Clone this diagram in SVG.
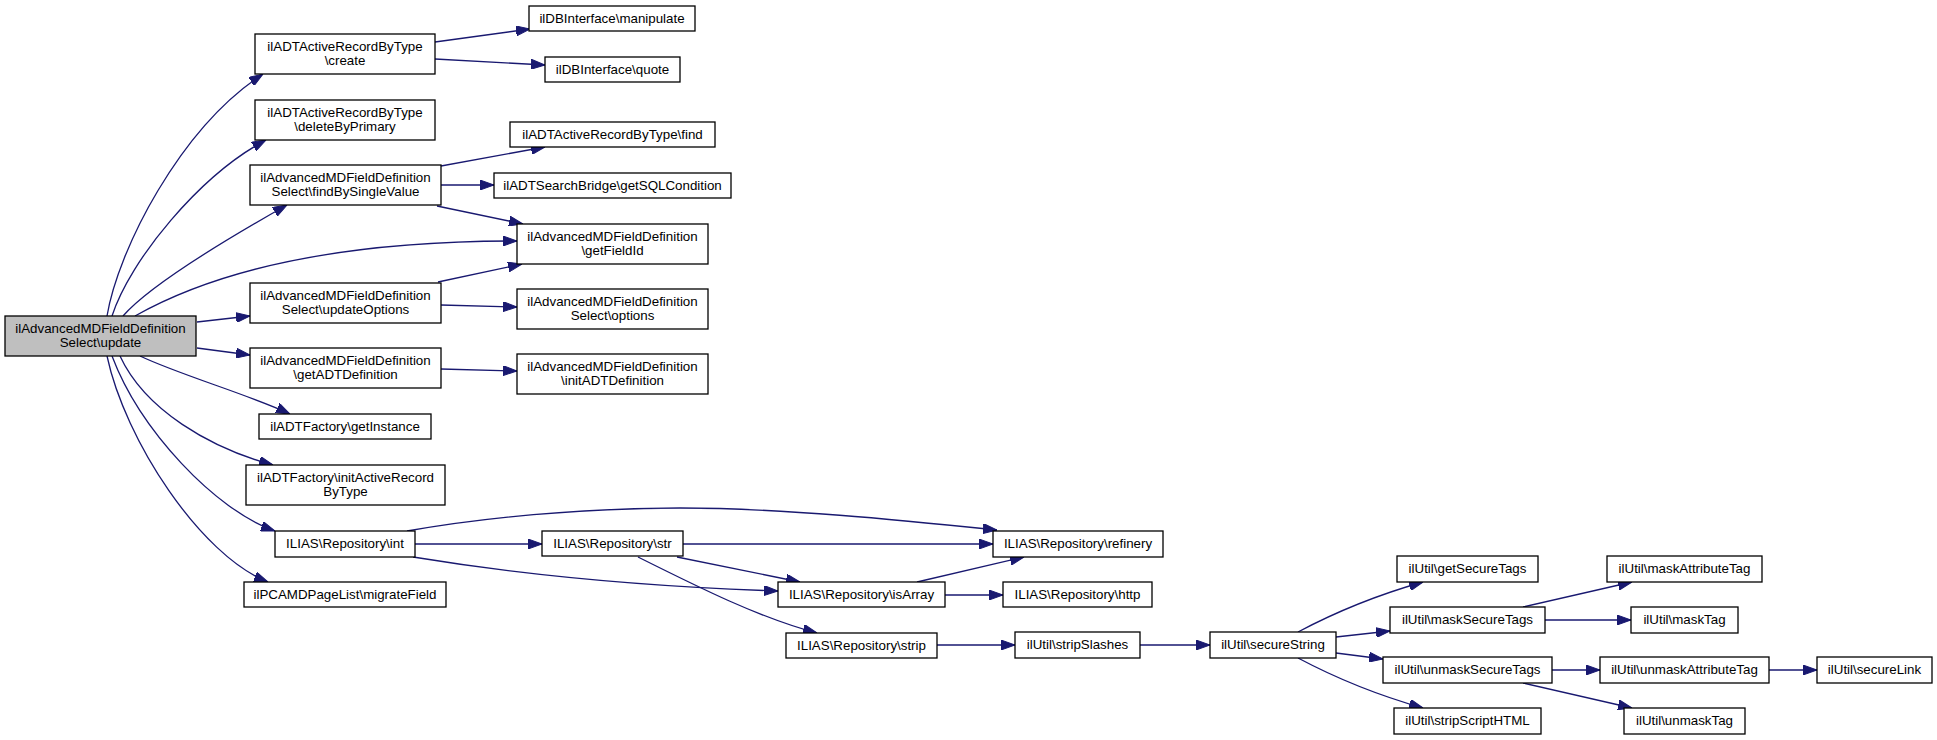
<svg xmlns="http://www.w3.org/2000/svg" width="1937" height="740" viewBox="0 0 1937 740">
<style>
.n rect{fill:#fff;stroke:#000;stroke-width:1.3}
.n.root rect{fill:#bfbfbf}
.n text{font-family:"Liberation Sans",Arial,sans-serif;font-size:13.33px;fill:#000;text-anchor:middle}
#edges path{fill:none;stroke:#191970;stroke-width:1.3;marker-end:url(#ah)}
</style>
<defs>
<marker id="ah" markerUnits="userSpaceOnUse" markerWidth="14" markerHeight="10" refX="14" refY="5" orient="auto" viewBox="0 0 14 10">
<path d="M0,0 L14,5 L0,10 Z" fill="#191970" stroke="#191970" stroke-width="1"/>
</marker>
</defs>
<rect width="1937" height="740" fill="#fff"/>
<g id="edges">
<path d="M107,316 C118,250 180,128 263,74"/>
<path d="M112,316 C130,260 200,175 266,140"/>
<path d="M123,316 C150,285 225,240 287,205"/>
<path d="M135,316 C190,285 300,241 517,241"/>
<path d="M197,322 L250,316"/>
<path d="M197,348 L250,355"/>
<path d="M140,356 C180,375 250,395 290,414"/>
<path d="M120,356 C145,410 210,448 273,465"/>
<path d="M112,356 C140,430 215,510 275,531"/>
<path d="M107,356 C125,440 200,555 268,582"/>
<path d="M435,42 L530,29"/>
<path d="M435,59 L545,65"/>
<path d="M441,166 L545,147"/>
<path d="M441,185 L494,185"/>
<path d="M437,206 L523,224"/>
<path d="M438,282 L522,264"/>
<path d="M441,305 L517,307"/>
<path d="M441,369 L517,371"/>
<path d="M407,531 C480,518 580,508 680,508 C780,508 900,520 997,530"/>
<path d="M415,544 L542,544"/>
<path d="M413,557 C480,568 600,585 778,591"/>
<path d="M683,544 L993,544"/>
<path d="M677,557 L800,582"/>
<path d="M638,557 C700,588 760,618 817,633"/>
<path d="M917,582 L1024,557"/>
<path d="M945,595 L1003,595"/>
<path d="M937,645 L1015,645"/>
<path d="M1140,645 L1210,645"/>
<path d="M1298,632 C1330,615 1370,597 1423,582"/>
<path d="M1336,637 L1390,631"/>
<path d="M1336,653 L1383,659"/>
<path d="M1298,658 C1330,675 1370,693 1423,708"/>
<path d="M1523,607 L1632,582"/>
<path d="M1545,620 L1631,620"/>
<path d="M1552,670 L1600,670"/>
<path d="M1523,683 L1632,708"/>
<path d="M1769,670 L1817,670"/>
</g>
<g id="root" class="n root"><rect x="5" y="316" width="191" height="40"/><text x="100.5" y="332.5">ilAdvancedMDFieldDefinition</text><text x="100.5" y="347">Select\update</text></g>
<g id="create" class="n"><rect x="255" y="34" width="180" height="40"/><text x="345" y="50.5">ilADTActiveRecordByType</text><text x="345" y="65">\create</text></g>
<g id="deleteByPrimary" class="n"><rect x="255" y="100" width="180" height="40"/><text x="345" y="116.5">ilADTActiveRecordByType</text><text x="345" y="131">\deleteByPrimary</text></g>
<g id="findBySingleValue" class="n"><rect x="250" y="165" width="191" height="40"/><text x="345.5" y="181.5">ilAdvancedMDFieldDefinition</text><text x="345.5" y="196">Select\findBySingleValue</text></g>
<g id="updateOptions" class="n"><rect x="250" y="283" width="191" height="40"/><text x="345.5" y="299.5">ilAdvancedMDFieldDefinition</text><text x="345.5" y="314">Select\updateOptions</text></g>
<g id="getADTDefinition" class="n"><rect x="250" y="348" width="191" height="40"/><text x="345.5" y="364.5">ilAdvancedMDFieldDefinition</text><text x="345.5" y="379">\getADTDefinition</text></g>
<g id="getInstance" class="n"><rect x="259" y="414" width="172" height="25"/><text x="345" y="430.5">ilADTFactory\getInstance</text></g>
<g id="initActiveRecordByType" class="n"><rect x="246" y="465" width="199" height="40"/><text x="345.5" y="481.5">ilADTFactory\initActiveRecord</text><text x="345.5" y="496">ByType</text></g>
<g id="int" class="n"><rect x="275" y="531" width="140" height="26"/><text x="345" y="547.5">ILIAS\Repository\int</text></g>
<g id="migrateField" class="n"><rect x="244" y="582" width="202" height="25"/><text x="345" y="598.5">ilPCAMDPageList\migrateField</text></g>
<g id="manipulate" class="n"><rect x="529" y="6" width="166" height="25"/><text x="612" y="22.5">ilDBInterface\manipulate</text></g>
<g id="quote" class="n"><rect x="545" y="57" width="135" height="25"/><text x="612.5" y="73.5">ilDBInterface\quote</text></g>
<g id="find" class="n"><rect x="510" y="122" width="205" height="25"/><text x="612.5" y="138.5">ilADTActiveRecordByType\find</text></g>
<g id="getSQLCondition" class="n"><rect x="494" y="173" width="237" height="25"/><text x="612.5" y="189.5">ilADTSearchBridge\getSQLCondition</text></g>
<g id="getFieldId" class="n"><rect x="517" y="224" width="191" height="40"/><text x="612.5" y="240.5">ilAdvancedMDFieldDefinition</text><text x="612.5" y="255">\getFieldId</text></g>
<g id="options" class="n"><rect x="517" y="289" width="191" height="40"/><text x="612.5" y="305.5">ilAdvancedMDFieldDefinition</text><text x="612.5" y="320">Select\options</text></g>
<g id="initADTDefinition" class="n"><rect x="517" y="354" width="191" height="40"/><text x="612.5" y="370.5">ilAdvancedMDFieldDefinition</text><text x="612.5" y="385">\initADTDefinition</text></g>
<g id="str" class="n"><rect x="542" y="531" width="141" height="25"/><text x="612.5" y="547.5">ILIAS\Repository\str</text></g>
<g id="isArray" class="n"><rect x="778" y="582" width="167" height="25"/><text x="861.5" y="598.5">ILIAS\Repository\isArray</text></g>
<g id="strip" class="n"><rect x="786" y="633" width="151" height="25"/><text x="861.5" y="649.5">ILIAS\Repository\strip</text></g>
<g id="refinery" class="n"><rect x="993" y="531" width="170" height="26"/><text x="1078" y="547.5">ILIAS\Repository\refinery</text></g>
<g id="http" class="n"><rect x="1003" y="582" width="149" height="25"/><text x="1077.5" y="598.5">ILIAS\Repository\http</text></g>
<g id="stripSlashes" class="n"><rect x="1015" y="632" width="125" height="26"/><text x="1077.5" y="648.5">ilUtil\stripSlashes</text></g>
<g id="secureString" class="n"><rect x="1210" y="632" width="126" height="26"/><text x="1273" y="648.5">ilUtil\secureString</text></g>
<g id="getSecureTags" class="n"><rect x="1397" y="556" width="141" height="26"/><text x="1467.5" y="572.5">ilUtil\getSecureTags</text></g>
<g id="maskSecureTags" class="n"><rect x="1390" y="607" width="155" height="26"/><text x="1467.5" y="623.5">ilUtil\maskSecureTags</text></g>
<g id="unmaskSecureTags" class="n"><rect x="1383" y="657" width="169" height="26"/><text x="1467.5" y="673.5">ilUtil\unmaskSecureTags</text></g>
<g id="stripScriptHTML" class="n"><rect x="1394" y="708" width="147" height="26"/><text x="1467.5" y="724.5">ilUtil\stripScriptHTML</text></g>
<g id="maskAttributeTag" class="n"><rect x="1607" y="556" width="155" height="26"/><text x="1684.5" y="572.5">ilUtil\maskAttributeTag</text></g>
<g id="maskTag" class="n"><rect x="1631" y="607" width="107" height="26"/><text x="1684.5" y="623.5">ilUtil\maskTag</text></g>
<g id="unmaskAttributeTag" class="n"><rect x="1600" y="657" width="169" height="26"/><text x="1684.5" y="673.5">ilUtil\unmaskAttributeTag</text></g>
<g id="unmaskTag" class="n"><rect x="1624" y="708" width="121" height="26"/><text x="1684.5" y="724.5">ilUtil\unmaskTag</text></g>
<g id="secureLink" class="n"><rect x="1817" y="657" width="115" height="26"/><text x="1874.5" y="673.5">ilUtil\secureLink</text></g>
</svg>
